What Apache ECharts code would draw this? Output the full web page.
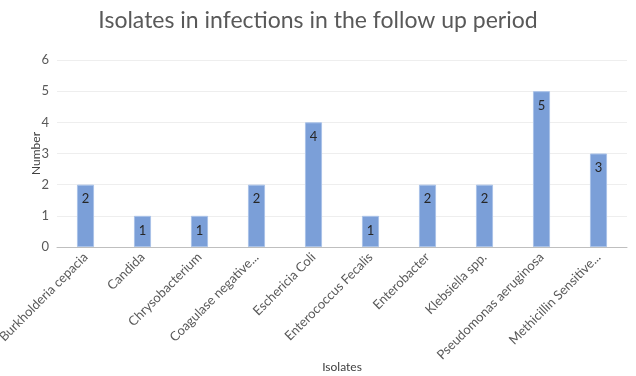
<!DOCTYPE html>
<html>
<head>
<meta charset="utf-8">
<script src="https://cdn.jsdelivr.net/npm/echarts@6/dist/echarts.min.js"></script>
<style>
  html, body { margin: 0; padding: 0; background: #fff; }
  #chart { width: 636px; height: 376px; }
</style>
</head>
<body>
<div id="chart"></div>
<script>
'use strict';

const isolates = [
  'Burkholderia cepacia',
  'Candida',
  'Chrysobacterium',
  'Coagulase negative...',
  'Eschericia Coli',
  'Enterococcus Fecalis',
  'Enterobacter',
  'Klebsiella spp.',
  'Pseudomonas aeruginosa',
  'Methicillin Sensitive...',
];
const counts = [2, 1, 1, 2, 4, 1, 2, 2, 5, 3];

const FONT = 'Lato, "Open Sans", sans-serif';

const chart = echarts.init(document.getElementById('chart'));
chart.setOption({
  backgroundColor: '#ffffff',
  animation: false,
  textStyle: { fontFamily: FONT },
  title: {
    text: 'Isolates in infections in the follow up period',
    left: 'center',
    top: 4,
    textStyle: { fontFamily: FONT, fontSize: 23, fontWeight: 'normal', color: '#595959' },
  },
  grid: { left: 57, right: 9, top: 60, bottom: 129, outerBoundsMode: 'none' },
  xAxis: {
    type: 'category',
    data: isolates,
    name: 'Isolates',
    nameLocation: 'middle',
    nameGap: 114,
    nameMoveOverlap: false,
    nameTextStyle: { color: '#404040', fontSize: 12 },
    axisLine: { lineStyle: { color: '#bfbfbf', width: 1 } },
    axisTick: { show: false },
    axisLabel: { rotate: 45, interval: 0, color: '#595959', fontSize: 13, margin: 8 },
  },
  yAxis: {
    type: 'value',
    min: 0,
    max: 6,
    interval: 1,
    name: 'Number',
    nameLocation: 'middle',
    nameGap: 15,
    nameMoveOverlap: false,
    nameTextStyle: { color: '#404040', fontSize: 12 },
    axisLine: { show: false },
    axisTick: { show: false },
    axisLabel: { color: '#595959', fontSize: 13, margin: 8 },
    splitLine: { lineStyle: { color: '#eeeeee' } },
  },
  series: [{
    type: 'bar',
    data: counts,
    barWidth: '30%',
    itemStyle: { color: '#7b9fd8', borderColor: '#a9c2e8', borderWidth: 1 },
    label: {
      show: true,
      position: 'insideTop',
      distance: 8,
      color: '#262626',
      fontSize: 13,
    },
  }],
});
</script>
</body>
</html>
